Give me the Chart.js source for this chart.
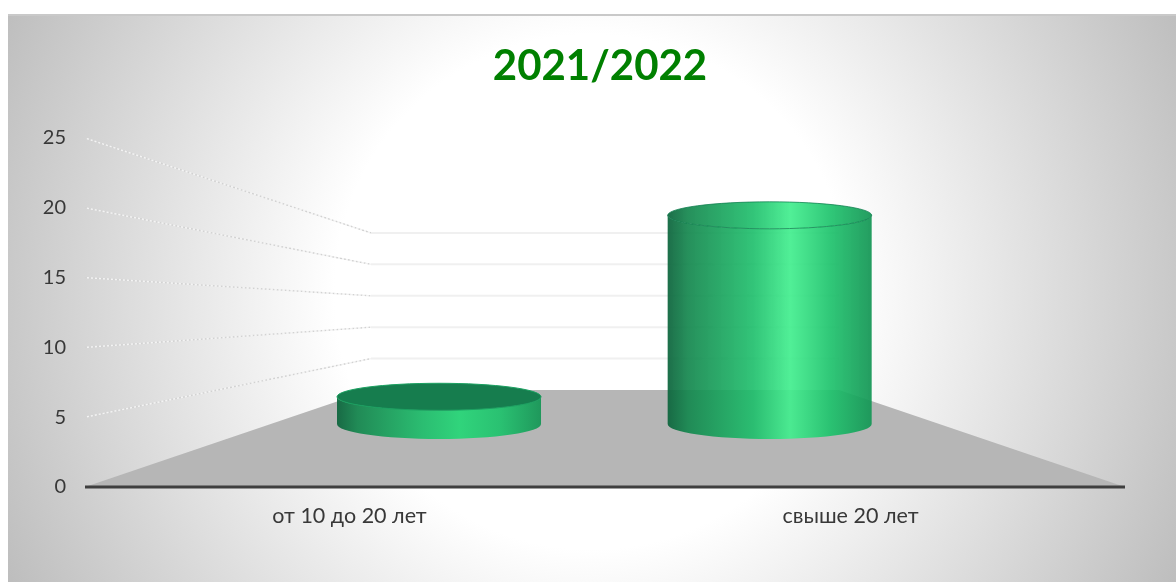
<!DOCTYPE html>
<html>
<head>
<meta charset="utf-8">
<title>2021/2022</title>
<script src="https://cdn.jsdelivr.net/npm/chart.js@4"></script>
<style>
    html, body { margin: 0; padding: 0; background: #fff; overflow: hidden; }
    #panel {
        position: absolute; left: 8px; top: 14px; width: 1168px; height: 568px;
        border-top: 2px solid #c9c9c9; box-sizing: border-box;
        background: radial-gradient(circle 660px at 584px 276px, #fff 39%, #bcbcbc 100%);
    }
    #chart { position: absolute; left: 0; top: 0; }
</style>
</head>
<body>
<div id="panel"></div>
<canvas id="chart" width="1176" height="582"></canvas>
<script>
const categories = ["от 10 до 20 лет", "свыше 20 лет"];
const values = [3, 23];
const tickLabels = [0, 5, 10, 15, 20, 25];

// fake 3D: how much the back wall and the cylinders shrink compared to the front plane
const backScale = 0.45;
const midScale = 0.65;
const midScaleX = 0.66;
const vanishX = 605;
const frontLeft = 85, frontRight = 1125;
const backFloorY = 390, midFloorY = 424;

function bodyGradient(ctx, left, right, peak) {
    const g = ctx.createLinearGradient(left, 0, right, 0);
    g.addColorStop(0, "rgba(12,100,60,0.93)");
    g.addColorStop(0.1, "rgba(20,135,78,0.92)");
    g.addColorStop(0.42, "rgba(28,190,106,0.9)");
    g.addColorStop(0.6, peak);
    g.addColorStop(0.8, "rgba(30,194,108,0.92)");
    g.addColorStop(1, "rgba(22,150,86,0.94)");
    return g;
}

const scenePlugin = {
    id: "scene",
    afterLayout(chart) {
        // title is centred on the panel, not on the plot
        chart.titleBlock.left = 0;
        chart.titleBlock.right = 1200;
    },
    beforeDatasetsDraw(chart) {
        const ctx = chart.ctx, y = chart.scales.y;
        const y0 = y.getPixelForValue(0);
        const backLeft = vanishX - (vanishX - frontLeft) * backScale;
        const backRight = vanishX + (frontRight - vanishX) * backScale;
        ctx.save();

        // floor
        ctx.fillStyle = "#b6b6b6";
        ctx.beginPath();
        ctx.moveTo(frontLeft, y0);
        ctx.lineTo(backLeft, backFloorY);
        ctx.lineTo(backRight, backFloorY);
        ctx.lineTo(frontRight, y0);
        ctx.closePath();
        ctx.fill();

        // grid lines on the side and back walls
        tickLabels.slice(1).forEach(v => {
            const front = y.getPixelForValue(v);
            const back = backFloorY - (y0 - front) * backScale;
            ctx.lineWidth = 1.4;
            ctx.setLineDash([2, 2]);
            ctx.strokeStyle = "#d2d2d2";
            ctx.beginPath();
            ctx.moveTo(frontLeft, front);
            ctx.lineTo(backLeft, back);
            ctx.stroke();
            ctx.lineDashOffset = 2;
            ctx.strokeStyle = "#f4f4f4";
            ctx.stroke();
            ctx.lineDashOffset = 0;
            ctx.setLineDash([]);
            ctx.strokeStyle = "#f0f0f0";
            ctx.lineWidth = 2;
            ctx.beginPath();
            ctx.moveTo(backLeft, back);
            ctx.lineTo(backRight, back);
            ctx.stroke();
        });

        // base line
        ctx.strokeStyle = "#3f3f3f";
        ctx.lineWidth = 3;
        ctx.beginPath();
        ctx.moveTo(frontLeft, y0);
        ctx.lineTo(frontRight, y0);
        ctx.stroke();
        ctx.restore();
    },
    afterDatasetsDraw(chart) {
        const ctx = chart.ctx, y = chart.scales.y;
        const y0 = y.getPixelForValue(0);
        const bars = chart.getDatasetMeta(0).data;
        ctx.save();
        bars.forEach((bar, i) => {
            const cx = vanishX + (bar.x - 601) * midScaleX;
            const rx = bar.width * midScaleX / 2;
            const h = (y0 - y.getPixelForValue(values[i])) * midScale;
            const top = midFloorY - h;
            const short = values[i] < 10;
            const ryTop = 13.5, ryBot = 15;
            const left = cx - rx, right = cx + rx;
            const peak = short ? "rgba(40,214,120,0.94)" : "rgba(66,238,142,0.92)";

            ctx.fillStyle = bodyGradient(ctx, left, right, peak);
            ctx.beginPath();
            ctx.moveTo(left, top);
            ctx.lineTo(left, midFloorY);
            ctx.ellipse(cx, midFloorY, rx, ryBot, 0, Math.PI, 0, true);
            ctx.lineTo(right, top);
            ctx.ellipse(cx, top, rx, ryTop, 0, 0, Math.PI, false);
            ctx.closePath();
            ctx.fill();

            ctx.fillStyle = short ? "#167d4e" : bodyGradient(ctx, left, right, peak);
            ctx.strokeStyle = short ? "#1aa060" : "rgba(14,125,78,0.75)";
            ctx.lineWidth = 1;
            ctx.beginPath();
            ctx.ellipse(cx, top, rx, ryTop, 0, 0, Math.PI * 2);
            ctx.fill();
            ctx.stroke();
        });
        ctx.restore();
    }
};

new Chart(document.getElementById("chart").getContext("2d"), {
    type: "bar",
    data: {
        labels: categories,
        datasets: [{
            data: values,
            backgroundColor: "rgba(0,0,0,0)",
            barPercentage: 0.617,
            categoryPercentage: 1
        }]
    },
    plugins: [scenePlugin],
    options: {
        responsive: false,
        animation: false,
        layout: { padding: { left: 0, right: 75, top: 0, bottom: 0 } },
        scales: {
            x: {
                grid: { display: false, drawTicks: false },
                border: { display: false },
                ticks: { color: "#383838", padding: 16, font: { family: "Lato, Open Sans", size: 21.5 } },
                afterFit(scale) { scale.height = 95; }
            },
            y: {
                min: 0,
                max: 25,
                afterBuildTicks(scale) { scale.ticks = tickLabels.map(v => ({ value: v })); },
                grid: { display: false, drawTicks: false },
                border: { display: false },
                ticks: { color: "#383838", padding: 33, font: { family: "Lato, Open Sans", size: 20 } },
                afterFit(scale) { scale.width = 99; }
            }
        },
        plugins: {
            legend: { display: false },
            tooltip: { enabled: false },
            title: {
                display: true,
                text: "2021/2022",
                color: "#008000",
                font: { family: "Lato, Open Sans", size: 42, weight: "bold" },
                padding: { top: 41, bottom: 46.6 }
            }
        }
    }
});
</script>
</body>
</html>
